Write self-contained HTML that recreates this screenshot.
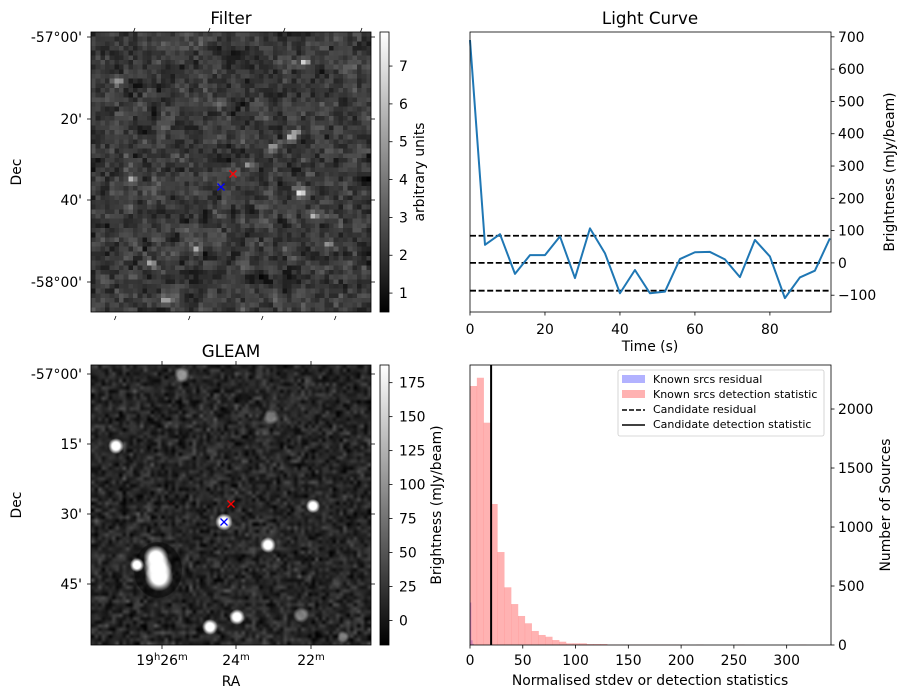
<!DOCTYPE html>
<html><head><meta charset="utf-8">
<style>
body{margin:0;background:#fff;}
#wrap{position:relative;width:907px;height:699px;overflow:hidden;font-family:"DejaVu Sans","Liberation Sans",sans-serif;}
canvas{position:absolute;}
svg{position:absolute;left:0;top:0;}
text{font-family:"DejaVu Sans","Liberation Sans",sans-serif;fill:#000;}
</style></head>
<body>
<div id="wrap">
<canvas id="filterImg" width="60" height="60" style="left:91px;top:32px;width:280px;height:280px;image-rendering:pixelated;"></canvas>
<canvas id="gleamImg" width="280" height="280" style="left:91px;top:365px;width:280px;height:280px;"></canvas>
<svg id="svg" width="907" height="699">
<defs>
<linearGradient id="cbg" x1="0" y1="1" x2="0" y2="0"><stop offset="0" stop-color="#000"/><stop offset="1" stop-color="#fff"/></linearGradient>
</defs>
</svg>
</div>
<script>
// ---------- Light curve data ----------
const lcTimes=[0,4,8,12,16,20,24,28,32,36,40,44,48,52,56,60,64,68,72,76,80,84,88,92,96];
const lcValues=[690,56,89,-34,24,24,82,-47,107,30,-94,-22,-94,-89,12,33,34,11,-44,71,20,-109,-45,-24,76];
const lcLevels=[84,0,-86];
const lcXTicks=[0,20,40,60,80];
const lcYTicks=[-100,0,100,200,300,400,500,600,700];
// ---------- Histogram data ----------
const histBinWidth=6.5;
const histDetCounts=[2195,2265,1884,1195,788,489,347,246,184,119,85,70,42,28,14,14,14,8,8,8,3,3,3,3,3,3,3,3,3,3,3,3,0,3,0,0,0,0,0,3,0,0,0,0,0,0,0,0,3];
const histResidCounts=[360,40,10];
const histResidBinWidth=1.2;
const candidateStat=20;
const histXTicks=[0,50,100,150,200,250,300];
const histYTicks=[0,500,1000,1500,2000];
// ---------- colorbar ticks ----------
const filterCbTicks=[1,2,3,4,5,6,7];
const gleamCbTicks=[0,25,50,75,100,125,150,175];

const FS=13.9, TS=16.7, LS=11;
const NS='http://www.w3.org/2000/svg';
const svg=document.getElementById('svg');
function el(tag,attrs,parent){const e=document.createElementNS(NS,tag);for(const k in attrs)e.setAttribute(k,attrs[k]);(parent||svg).appendChild(e);return e;}
function txt(x,y,s,size,anchor,parent,rot){const t=el('text',{x:x,y:y,'font-size':size,'text-anchor':anchor||'middle'},parent);if(rot)t.setAttribute('transform','rotate('+rot+' '+x+' '+y+')');t.textContent=s;return t;}

// ===== Light curve =====
const LC={x0:470,x1:831,y0:32,y1:312,xmin:0,xmax:96.3,ymin:-152,ymax:715};
const lx=v=>LC.x0+(v-LC.xmin)/(LC.xmax-LC.xmin)*(LC.x1-LC.x0);
const ly=v=>LC.y1-(v-LC.ymin)/(LC.ymax-LC.ymin)*(LC.y1-LC.y0);
const lcG=el('g',{});


lcLevels.forEach(v=>{const l=el('line',{x1:LC.x0,x2:LC.x1,y1:ly(v),y2:ly(v),stroke:'#000','stroke-width':1.8,'stroke-dasharray':'6,2.6'},lcG);

});
const lcLine=el('polyline',{points:lcTimes.map((t,i)=>lx(t)+','+ly(lcValues[i])).join(' '),fill:'none',stroke:'#1f77b4','stroke-width':2,'stroke-linejoin':'round'},lcG);


el('rect',{x:LC.x0,y:LC.y0,width:LC.x1-LC.x0,height:LC.y1-LC.y0,fill:'none',stroke:'#000','stroke-width':0.8},lcG);
lcXTicks.forEach(v=>{el('line',{x1:lx(v),x2:lx(v),y1:LC.y1,y2:LC.y1+3.5,stroke:'#000','stroke-width':0.8},lcG);const t=txt(lx(v),LC.y1+22,String(v),FS,'middle',lcG);

});
lcYTicks.forEach(v=>{el('line',{x1:LC.x1,x2:LC.x1+3.5,y1:ly(v),y2:ly(v),stroke:'#000','stroke-width':0.8},lcG);const t=txt(LC.x1+7,ly(v)+5,v<0?'\u2212'+(-v):String(v),FS,'start',lcG);

});
let t1=txt(650,24,'Light Curve',TS,'middle',lcG);


t1=txt(650,351,'Time (s)',FS,'middle',lcG);


t1=txt(894,172,'Brightness (mJy/beam)',FS,'middle',lcG,-90);



// ===== Histogram =====
const H={x0:470,x1:831,y0:365,y1:645,xmin:0,xmax:342,ymin:0,ymax:2373};
const hx=v=>H.x0+(v-H.xmin)/(H.xmax-H.xmin)*(H.x1-H.x0);
const hy=v=>H.y1-(v-H.ymin)/(H.ymax-H.ymin)*(H.y1-H.y0);
const hG=el('g',{});


histResidCounts.forEach((c,i)=>{const r=el('rect',{x:hx(i*histResidBinWidth),y:hy(c),width:hx((i+1)*histResidBinWidth)-hx(i*histResidBinWidth),height:hy(0)-hy(c),fill:'#0000ff','fill-opacity':0.3},hG);

});
histDetCounts.forEach((c,i)=>{if(c<=0)return;const r=el('rect',{x:hx(i*histBinWidth),y:hy(c),width:hx((i+1)*histBinWidth)-hx(i*histBinWidth)+0.2,height:hy(0)-hy(c),fill:'#ff0000','fill-opacity':0.3},hG);

});
const cl=el('line',{x1:hx(candidateStat),x2:hx(candidateStat),y1:H.y0,y2:H.y1,stroke:'#000','stroke-width':2},hG);


el('rect',{x:H.x0,y:H.y0,width:H.x1-H.x0,height:H.y1-H.y0,fill:'none',stroke:'#000','stroke-width':0.8},hG);
histXTicks.forEach(v=>{el('line',{x1:hx(v),x2:hx(v),y1:H.y1,y2:H.y1+3.5,stroke:'#000','stroke-width':0.8},hG);const t=txt(hx(v),H.y1+20,String(v),FS,'middle',hG);

});
histYTicks.forEach(v=>{el('line',{x1:H.x1,x2:H.x1+3.5,y1:hy(v),y2:hy(v),stroke:'#000','stroke-width':0.8},hG);const t=txt(H.x1+7,hy(v)+5,String(v),FS,'start',hG);

});
t1=txt(650,685,'Normalised stdev or detection statistics',FS,'middle',hG);


t1=txt(890,505,'Number of Sources',FS,'middle',hG,-90);


// legend
const lg=el('g',{},hG);


el('rect',{x:618,y:370,width:206,height:66,rx:2,fill:'#fff','fill-opacity':0.8,stroke:'#ccc','stroke-width':0.8},lg);
el('rect',{x:622,y:375,width:23,height:8,fill:'#0000ff','fill-opacity':0.3},lg);
el('rect',{x:622,y:390,width:23,height:8,fill:'#ff0000','fill-opacity':0.3},lg);
el('line',{x1:622,x2:645,y1:410,y2:410,stroke:'#000','stroke-width':1.5,'stroke-dasharray':'5,2'},lg);
el('line',{x1:622,x2:645,y1:425,y2:425,stroke:'#000','stroke-width':1.5},lg);
['Known srcs residual','Known srcs detection statistic','Candidate residual','Candidate detection statistic'].forEach((s,i)=>{const t=txt(653,383+i*15,s,LS,'start',lg);

});

// ===== Image panels axes =====
function imgAxes(y0,title,decLabels,decYs,cbTicks,cbMin,cbMax,cbLabel,name,cbLabelX){
  const g=el('g',{});
  
  
  el('rect',{x:91,y:y0,width:280,height:280,fill:'none',stroke:'#000','stroke-width':0.8},g);
  const t=txt(231,y0-8,title,TS,'middle',g);
  
  
  decLabels.forEach((s,i)=>{el('line',{x1:87,x2:91,y1:decYs[i],y2:decYs[i],stroke:'#000','stroke-width':0.8},g);el('line',{x1:371,x2:375,y1:decYs[i],y2:decYs[i],stroke:'#000','stroke-width':0.8},g);const tt=txt(82,decYs[i]+5,s,FS,'end',g);
  
  });
  const d=txt(21,y0+140,'Dec',FS,'middle',g,-90);
  
  
  const cb=el('rect',{x:380,y:y0,width:9,height:280,fill:'url(#cbg)',stroke:'#000','stroke-width':0.8},g);
  
  
  const cy=v=>y0+280-(v-cbMin)/(cbMax-cbMin)*280;
  cbTicks.forEach(v=>{el('line',{x1:389,x2:392.5,y1:cy(v),y2:cy(v),stroke:'#000','stroke-width':0.8},g);const tt=txt(399,cy(v)+5,String(v),FS,'start',g);
  
  });
  const cbl=txt(cbLabelX,y0+140,cbLabel,FS,'middle',g,-90);
  
  
  return g;
}
const fg=imgAxes(32,'Filter',['-57°00\'','20\'','40\'','-58°00\''],[37,119,200,282],filterCbTicks,0.5,7.9,'arbitrary units','filter-panel',424);
[[135,28],[210,28],[285,28],[362,28],[116,316],[190,316],[263,316],[336,316]].forEach(p=>el('line',{x1:p[0],y1:p[1],x2:p[0]-1.5,y2:p[1]+4,stroke:'#000','stroke-width':0.8},fg));
const gg=imgAxes(365,'GLEAM',['-57°00\'','15\'','30\'','45\''],[374,444,514,584],gleamCbTicks,-18,188,'Brightness (mJy/beam)','gleam-panel',441);
[162,236,311].forEach(x=>{el('line',{x1:x,x2:x,y1:645,y2:649,stroke:'#000','stroke-width':0.8},gg);el('line',{x1:x,x2:x,y1:361,y2:365,stroke:'#000','stroke-width':0.8},gg);});
[[162,'19','h','26','m'],[236,'','','24','m'],[311,'','','22','m']].forEach(a=>{const t=el('text',{x:a[0],y:665,'font-size':FS,'text-anchor':'middle'},gg);


t.innerHTML=a[1]+(a[2]?'<tspan font-size="10" dy="-5">h</tspan><tspan dy="5">':'<tspan>')+a[3]+'</tspan><tspan font-size="10" dy="-5">m</tspan>';});
t1=txt(231,686,'RA',FS,'middle',gg);


function cross(x,y,c,name){const g=el('g',{stroke:c,'stroke-width':1.3});el('line',{x1:x-3.5,y1:y-3.5,x2:x+3.5,y2:y+3.5},g);el('line',{x1:x-3.5,y1:y+3.5,x2:x+3.5,y2:y-3.5},g);}
cross(233,174,'#ff0000','filter-candidate-marker');cross(221,187,'#0000ff','filter-source-marker');

// ===== textures (seeded) =====
let seed=12345;function rnd(){seed=(seed*1664525+1013904223)>>>0;return seed/4294967296;}
function gauss(){return (rnd()+rnd()+rnd()+rnd()-2)*0.87;}
(function(){const c=document.getElementById('filterImg').getContext('2d');const im=c.createImageData(60,60);
const raw=[];for(let i=0;i<3600;i++)raw.push(gauss());
const bright=[[45,6,3],[44,34,3],[8,31,2],[33,28,1.8],[12,49,2.2],[43,21,2],[42,22,2],[47,39,2],[22,46,1.8],[27,15,1.6],[38,24,1.6],[15,57,1.8],[50,45,1.6],[5,10,1.5]];
bright.forEach(b=>{raw[b[1]*60+b[0]]+=b[2]*1.6;if(b[0]+1<60)raw[b[1]*60+b[0]+1]+=b[2];});
for(let y=0;y<60;y++)for(let x=0;x<60;x++){let s=0,n=0;for(let dy=-1;dy<=1;dy++)for(let dx=-1;dx<=1;dx++){const xx=x+dx,yy=y+dy;if(xx<0||yy<0||xx>59||yy>59)continue;const w=(dx==0&&dy==0)?4:0.5;s+=raw[yy*60+xx]*w;n+=w;}
let v=58+(s/n)*60;v=Math.max(0,Math.min(255,v));const i=y*60+x;im.data[i*4]=im.data[i*4+1]=im.data[i*4+2]=v;im.data[i*4+3]=255;}
c.putImageData(im,0,0);})();
(function(){const cv=document.getElementById('gleamImg');const c=cv.getContext('2d');
const tmp=document.createElement('canvas');tmp.width=80;tmp.height=80;const tc=tmp.getContext('2d');const im=tc.createImageData(80,80);
for(let i=0;i<6400;i++){let v=40+gauss()*38;v=Math.max(0,Math.min(255,v));im.data[i*4]=im.data[i*4+1]=im.data[i*4+2]=v;im.data[i*4+3]=255;}
tc.putImageData(im,0,0);c.imageSmoothingEnabled=true;c.drawImage(tmp,0,0,280,280);
function blob(x,y,r,a){const g=c.createRadialGradient(x,y,0,x,y,r*1.6);g.addColorStop(0,'rgba(255,255,255,'+(a||1)+')');g.addColorStop(0.5,'rgba(255,255,255,'+(a||1)+')');g.addColorStop(1,'rgba(255,255,255,0)');c.fillStyle=g;c.beginPath();c.arc(x,y,r*1.6,0,7);c.fill();}
// dark halo around big source
c.fillStyle='rgba(0,0,0,0.5)';c.beginPath();c.ellipse(67,205,24,28,0,0,7);c.fill();
blob(25,81,5);blob(133,157,5.5);blob(177,180,5);blob(222,141,4.5);blob(65,193,8);blob(67,203,9);blob(68,212,9);blob(46,200,4.5);blob(146,252,5);blob(119,262,5);blob(91,10,5,0.5);blob(180,52,5,0.4);blob(210,250,5,0.4);blob(252,272,4,0.4);})();
cross(231,504,'#ff0000','gleam-candidate-marker');cross(224,522,'#0000ff','gleam-source-marker');
</script>
</body></html>
